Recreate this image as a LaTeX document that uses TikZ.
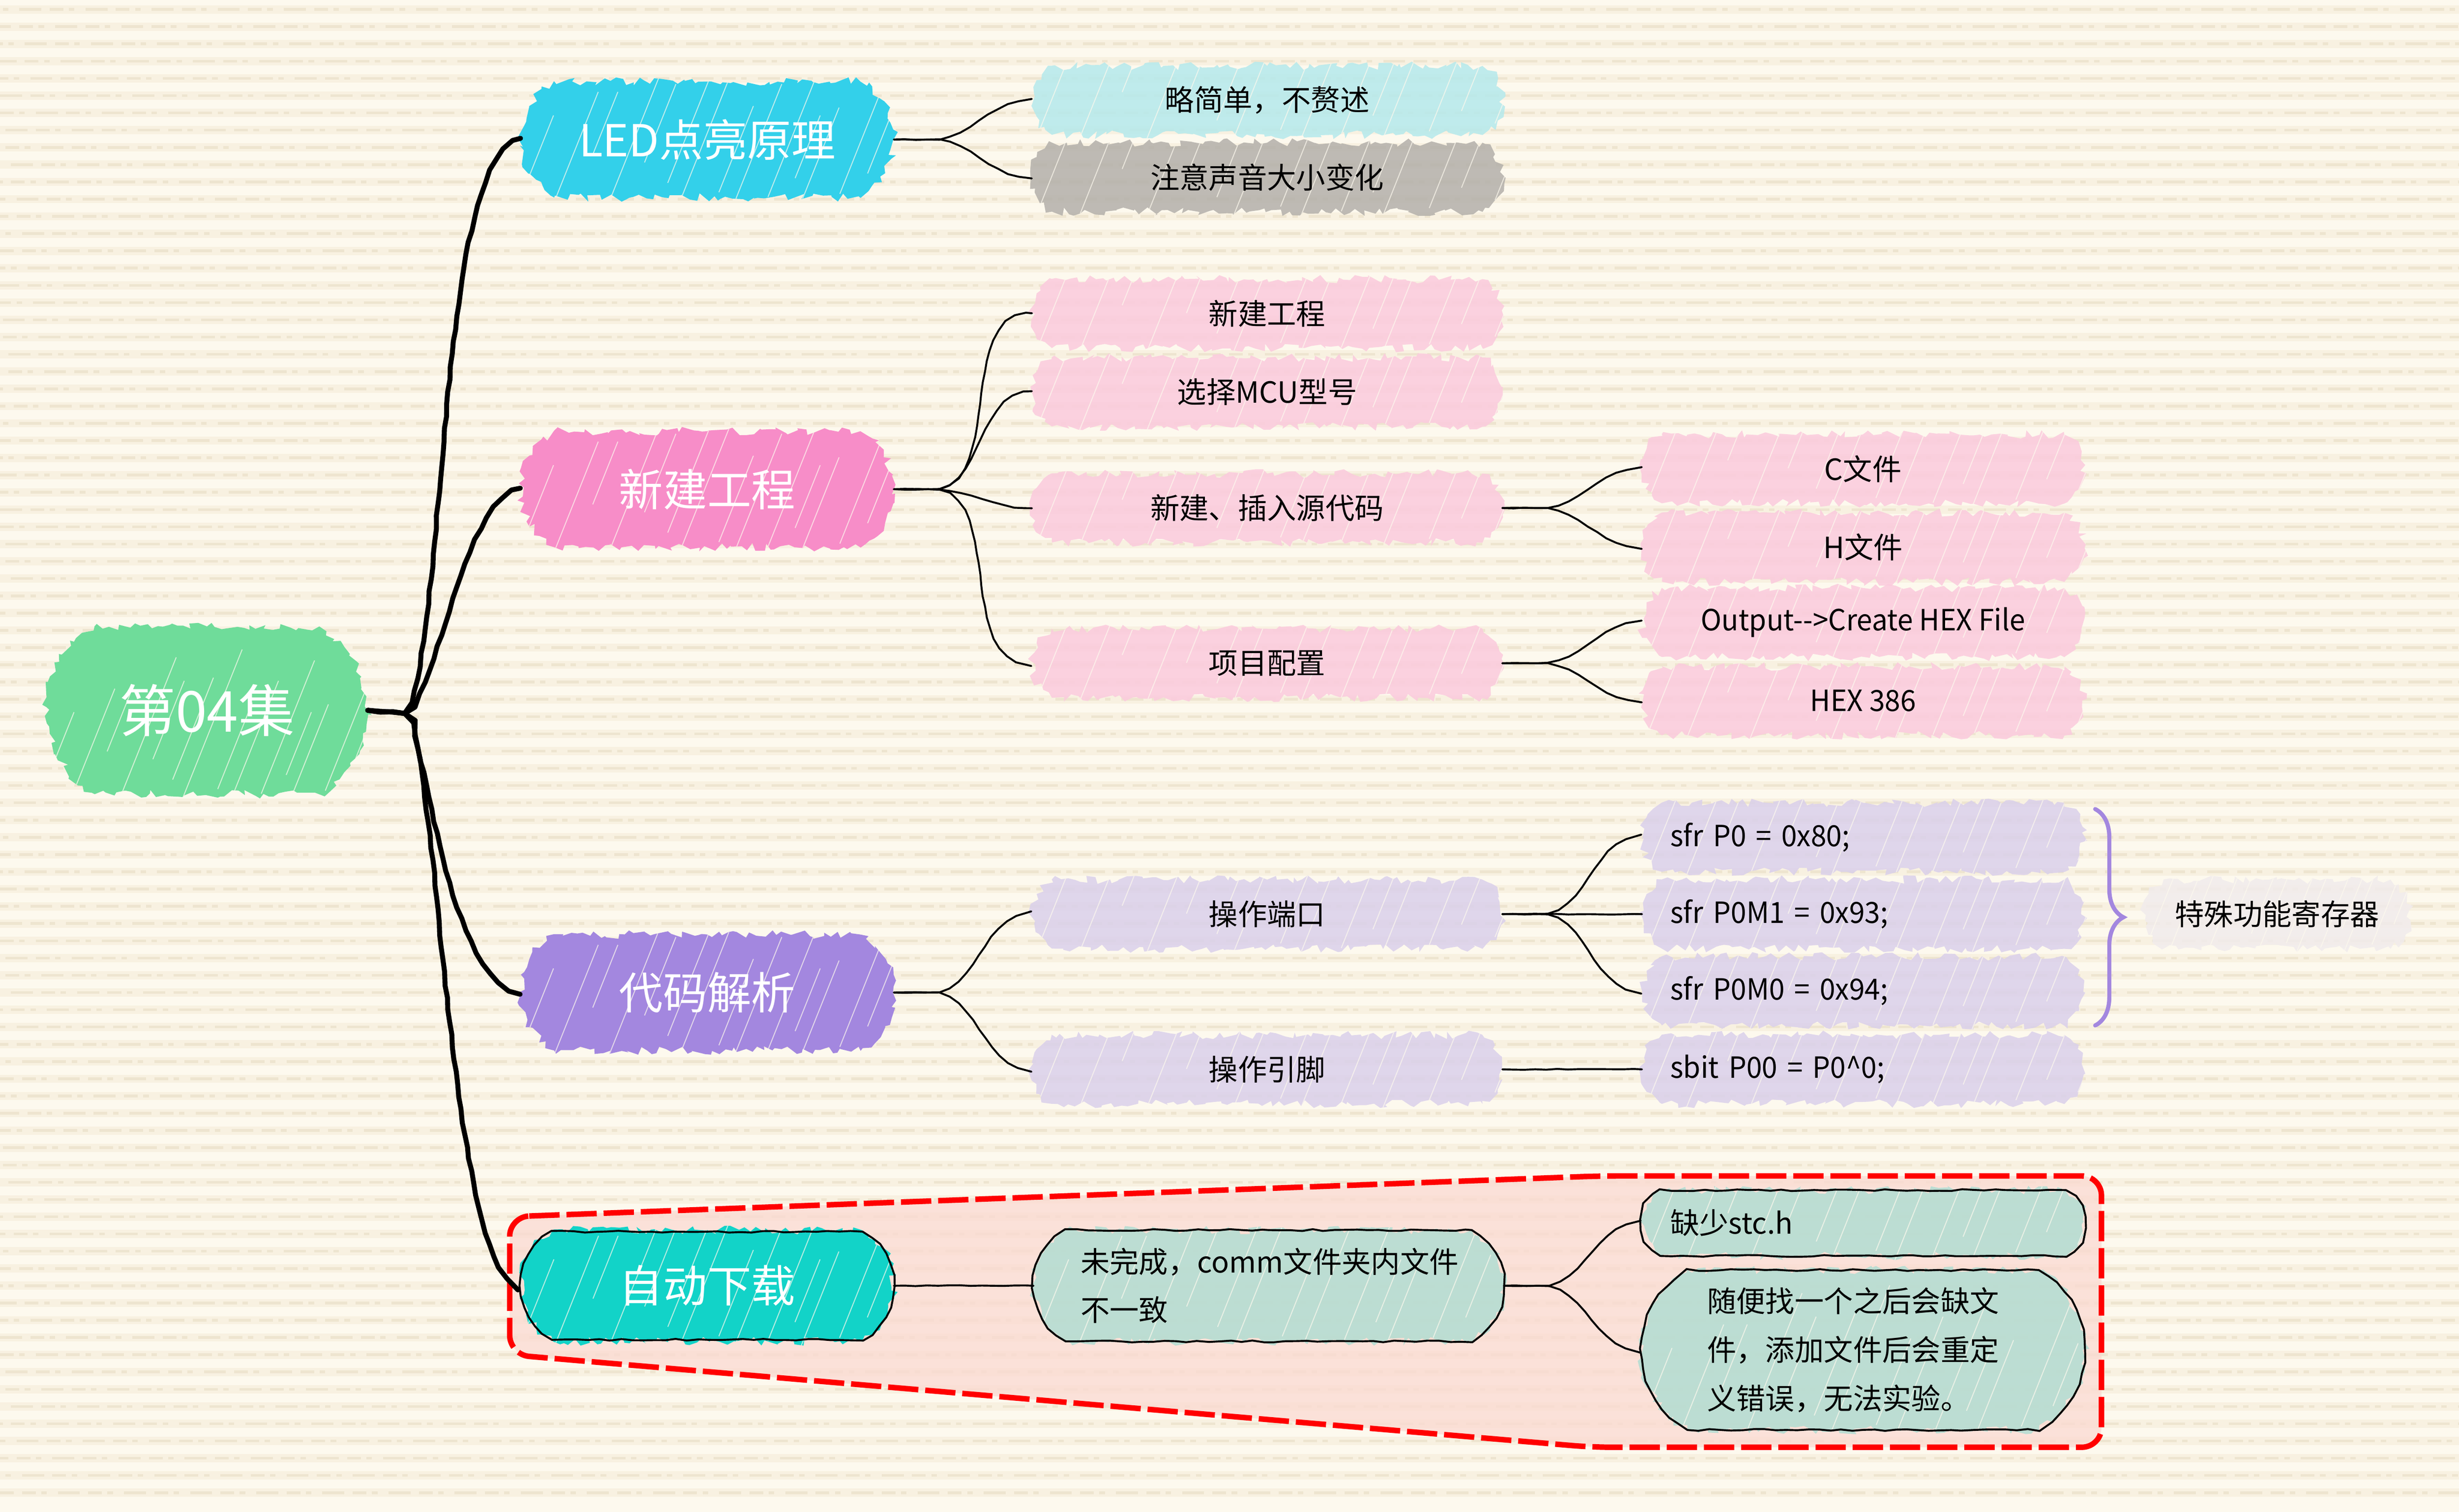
\documentclass[tikz,border=0pt]{standalone}
\usepackage{fontspec}
\setmainfont{Noto Sans CJK SC}
\newfontfamily\narrowfont{Noto Sans CJK SC}[FakeStretch=0.96]
\usetikzlibrary{decorations.pathmorphing,decorations.pathreplacing,shapes.misc,calc}
\definecolor{paper}{HTML}{FDF9EE}
\definecolor{weave}{HTML}{F8F1E1}
\definecolor{fleck}{HTML}{E6DBC0}
\definecolor{rootgreen}{HTML}{6FDC9A}
\definecolor{ledblue}{HTML}{33D0EA}
\definecolor{newpink}{HTML}{F78DC8}
\definecolor{codepurple}{HTML}{A387DF}
\definecolor{autoteal}{HTML}{12D3C8}
\definecolor{leafblue}{HTML}{B5E9EC}
\definecolor{leafgray}{HTML}{B3B0AA}
\definecolor{leafpink}{HTML}{FBCADD}
\definecolor{leafpurple}{HTML}{DAD0EB}
\definecolor{leafsage}{HTML}{B2DDD2}
\definecolor{leafnote}{HTML}{F1ECEC}
\definecolor{regionred}{HTML}{FBD9D2}
\tikzset{
	rough/.style={decorate, decoration={random steps, segment length=0.07cm, amplitude=0.055cm}},
	hatch/.style={path picture={
		\foreach \h/\s/\l in {0.02/5/50,0.11/0/70,0.16/30/40,0.25/0/90,0.3/25/50,0.38/12/65,0.43/0/95,0.52/6/55,0.57/0/75,0.65/3/85,0.7/15/40,0.74/0/60,0.83/5/80,0.88/18/40,0.96/10/45}
			\draw[paper, line width=0.35pt, draw opacity=0.7] ($(path picture bounding box.south west)!\h!(path picture bounding box.south east)+(0.4*\s,-\s)$) -- ++(0.4*\l,-\l);
	}},
	blob/.style={rounded rectangle, rounded rectangle arc length=120, rough, hatch, inner sep=0pt, outer sep=0pt},
	rootnode/.style={blob, fill=rootgreen, text=white, minimum width=4.1cm, minimum height=2.14cm, font=\fontsize{20.5}{24}\selectfont},
	topic/.style={blob, text=white, minimum width=4.76cm, minimum height=1.48cm, font=\fontsize{16}{20}\selectfont},
	leaf/.style={blob, fill opacity=0.85, text opacity=1, minimum width=6cm, minimum height=0.88cm, font=\fontsize{10.6}{17.6}\selectfont},
	subleaf/.style={leaf, minimum width=5.64cm},
	codeleaf/.style={subleaf, text width=4.92cm, align=left},
	outlinebox/.style={rounded rectangle, rounded rectangle arc length=120, draw=black, line width=0.7pt, inner sep=0pt, outer sep=0pt, decorate, decoration={random steps, segment length=0.14cm, amplitude=0.012cm}},
	trunk/.style={line width=1.8pt, line cap=round, line join=round, decorate, decoration={random steps, segment length=0.16cm, amplitude=0.01cm}},
	branch/.style={line width=0.7pt, line cap=round, line join=round, decorate, decoration={random steps, segment length=0.14cm, amplitude=0.006cm}},
	region/.style={draw=red, fill=regionred, fill opacity=0.75, line width=2pt, dash pattern=on 11pt off 2.5pt, rounded corners=0.25cm}
}
\begin{document}
\begin{tikzpicture}[x=0.02cm,y=-0.02cm]
	\useasboundingbox (0,0) rectangle (1568,964.3);
	\fill[paper] (0,0) rectangle (1568,964.3);
	\foreach \r in {6,17,...,960}{
		\draw[weave, line width=3pt] (0,\r) -- (1568,\r);
		\draw[fleck, line width=1pt, draw opacity=0.5, dash pattern=on 5pt off 2pt on 2pt off 4pt on 8pt off 3pt, dash phase=\r pt] (0,\r) -- (1568,\r);
	}
	\pgfmathsetseed{4}

	\filldraw[region] (325,776) -- (1020,750) -- (1340,750) -- (1340,923) -- (1015,923) -- (325,864) -- cycle;

	\node[rootnode] (root) at (132,453) {第04集};

	\node[topic, fill=ledblue] (led) at (451,89) {LED点亮原理};
	\node[topic, fill=newpink] (newproj) at (451,312) {新建工程};
	\node[topic, fill=codepurple] (code) at (451,633) {代码解析};
	\node[topic, fill=autoteal, minimum height=1.42cm] (auto) at (451,820) {自动下载};
	\node[outlinebox, minimum width=4.76cm, minimum height=1.38cm] (autoline) at (auto.center) {};

	\node[leaf, fill=leafblue] (simple) at (808,64) {略简单，不赘述};
	\node[leaf, fill=leafgray] (voice) at (808,113) {注意声音大小变化};

	\node[leaf, fill=leafpink] (create) at (808,200) {新建工程};
	\node[leaf, fill=leafpink] (mcu) at (808,250) {选择MCU型号};
	\node[leaf, fill=leafpink] (source) at (808,324) {新建、插入源代码};
	\node[leaf, fill=leafpink] (config) at (808,423) {项目配置};

	\node[subleaf, fill=leafpink] (cfile) at (1188,299) {C文件};
	\node[subleaf, fill=leafpink] (hfile) at (1188,349) {H文件};
	\node[subleaf, fill=leafpink] (hexout) at (1188,397) {\narrowfont Output-->Create HEX File};
	\node[subleaf, fill=leafpink] (hexchip) at (1188,447) {\narrowfont HEX 386};

	\node[leaf, fill=leafpurple] (port) at (808,583) {操作端口};
	\node[leaf, fill=leafpurple] (pin) at (808,682) {操作引脚};

	\node[codeleaf, fill=leafpurple] (sfrp) at (1188,534) {\narrowfont sfr P0 = 0x80;};
	\node[codeleaf, fill=leafpurple] (sfrm) at (1188,583) {\narrowfont sfr P0M1 = 0x93;};
	\node[codeleaf, fill=leafpurple] (sfrn) at (1188,632) {\narrowfont sfr P0M0 = 0x94;};
	\node[codeleaf, fill=leafpurple] (sbit) at (1188,682) {\narrowfont sbit P00 = P0\^{}0;};

	\node[leaf, fill=leafnote, minimum width=3.4cm] (special) at (1452,583) {特殊功能寄存器};
	\coordinate (bracetop) at (1336,516);
	\coordinate (bracebot) at (1336,654);
	\draw[codepurple, line width=1.5pt, line cap=round, decorate, decoration={brace, amplitude=0.36cm}] (bracetop) -- (bracebot);

	\node[leaf, fill=leafsage, minimum height=1.42cm, text width=4.8cm, align=left] (unfinished) at (809,820) {未完成，comm文件夹内文件\\不一致};
	\node[outlinebox, minimum width=6cm, minimum height=1.42cm] (unfinishedline) at (unfinished.center) {};
	\node[codeleaf, fill=leafsage, minimum height=0.84cm] (stc) at (1188,780) {缺少stc.h};
	\node[outlinebox, minimum width=5.66cm, minimum height=0.84cm] (stcline) at (stc.center) {};
	\node[leaf, fill=leafsage, minimum width=5.66cm, minimum height=2.04cm, text width=3.98cm, align=left] (random) at (1188,861) {随便找一个之后会缺文\\件，添加文件后会重定\\义错误，无法实验。};
	\node[outlinebox, minimum width=5.66cm, minimum height=2.04cm] (randomline) at (random.center) {};

	\coordinate (hub) at (258,455);
	\draw[trunk] (root.east) -- (hub) .. controls (285,417) and (278,95) .. (led.west);
	\draw[trunk] (root.east) -- (hub) .. controls (280,440) and (295,318) .. (newproj.west);
	\draw[trunk] (root.east) -- (hub) .. controls (272,470) and (285,628) .. (code.west);
	\draw[trunk] (root.east) -- (hub) .. controls (280,470) and (285,815) .. (autoline.west);

	\draw[branch] (led.east) -- ++(22,0) to[out=0,in=180] (simple.west);
	\draw[branch] (led.east) -- ++(22,0) to[out=0,in=180] (voice.west);
	\draw[branch] (newproj.east) -- ++(22,0) to[out=0,in=180] (create.west);
	\draw[branch] (newproj.east) -- ++(22,0) to[out=0,in=180] (mcu.west);
	\draw[branch] (newproj.east) -- ++(22,0) to[out=0,in=180] (source.west);
	\draw[branch] (newproj.east) -- ++(22,0) to[out=0,in=180] (config.west);
	\draw[branch] (source.east) -- ++(22,0) to[out=0,in=180] (cfile.west);
	\draw[branch] (source.east) -- ++(22,0) to[out=0,in=180] (hfile.west);
	\draw[branch] (config.east) -- ++(22,0) to[out=0,in=180] (hexout.west);
	\draw[branch] (config.east) -- ++(22,0) to[out=0,in=180] (hexchip.west);
	\draw[branch] (code.east) -- ++(22,0) to[out=0,in=180] (port.west);
	\draw[branch] (code.east) -- ++(22,0) to[out=0,in=180] (pin.west);
	\draw[branch] (port.east) -- ++(22,0) to[out=0,in=180] (sfrp.west);
	\draw[branch] (port.east) -- (sfrm.west);
	\draw[branch] (port.east) -- ++(22,0) to[out=0,in=180] (sfrn.west);
	\draw[branch] (pin.east) -- (sbit.west);
	\draw[branch] (autoline.east) -- (unfinishedline.west);
	\draw[branch] (unfinishedline.east) -- ++(22,0) to[out=0,in=180] (stcline.west);
	\draw[branch] (unfinishedline.east) -- ++(22,0) to[out=0,in=180] (randomline.west);
\end{tikzpicture}
\end{document}
